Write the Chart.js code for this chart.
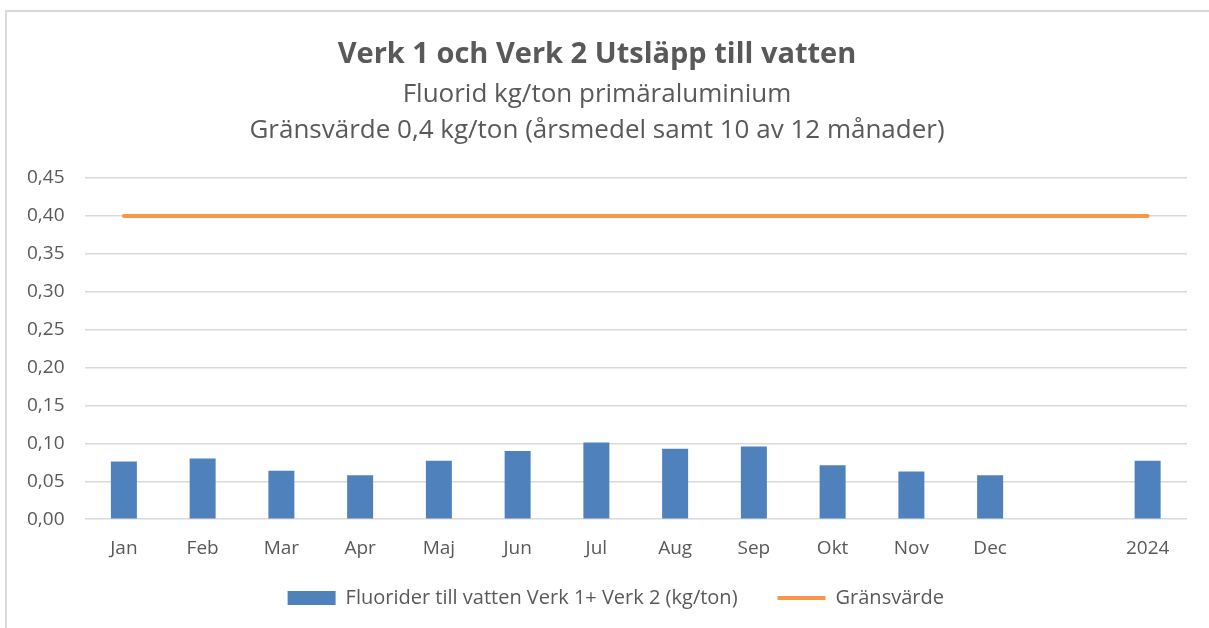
<!DOCTYPE html>
<html lang="sv">
<head>
<meta charset="utf-8">
<title>Verk 1 och Verk 2 Utsläpp till vatten</title>
<script src="https://cdn.jsdelivr.net/npm/chart.js@4.4.1/dist/chart.umd.min.js"></script>
<style>
    html, body {
        margin: 0;
        padding: 0;
        background: #ffffff;
        overflow: hidden;
    }
    .frame {
        position: absolute;
        left: 5px;
        top: 10px;
        width: 1260px;
        height: 700px;
        border: 2px solid #d9d9d9;
    }
    .chart-box {
        position: absolute;
        left: 0;
        top: 0;
        width: 1209px;
        height: 628px;
    }
</style>
</head>
<body>
<div class="frame"></div>
<div class="chart-box"><canvas id="utslapp"></canvas></div>
<script>
// Data
const categories = ['Jan', 'Feb', 'Mar', 'Apr', 'Maj', 'Jun', 'Jul', 'Aug', 'Sep', 'Okt', 'Nov', 'Dec', '', '2024'];
const fluoridValues = [0.076, 0.080, 0.064, 0.058, 0.077, 0.090, 0.101, 0.093, 0.096, 0.071, 0.063, 0.058, null, 0.077];
const limitValues = [0.40, 0.40, 0.40, 0.40, 0.40, 0.40, 0.40, 0.40, 0.40, 0.40, 0.40, 0.40, 0.40, 0.40];
const yTicks = [0, 0.05, 0.10, 0.15, 0.20, 0.25, 0.30, 0.35, 0.40, 0.45];

const TEXT_COLOR = '#595959';
const GRID_COLOR = '#d9d9d9';
const BAR_COLOR = '#4F81BD';
const LINE_COLOR = '#F79646';
const FONT = '"Open Sans", Lato, sans-serif';

(function() {
    'use strict';

    const ctx = document.getElementById('utslapp');

    new Chart(ctx.getContext('2d'), {
        data: {
            labels: categories,
            datasets: [
                {
                    type: 'bar',
                    label: 'Fluorider till vatten Verk 1+ Verk 2 (kg/ton)',
                    data: fluoridValues,
                    backgroundColor: BAR_COLOR,
                    borderWidth: 0,
                    barPercentage: 0.33,
                    categoryPercentage: 1.0,
                    order: 2
                },
                {
                    type: 'line',
                    label: 'Gränsvärde',
                    data: limitValues,
                    borderColor: LINE_COLOR,
                    backgroundColor: LINE_COLOR,
                    borderWidth: 4,
                    borderCapStyle: 'round',
                    pointRadius: 0,
                    pointHoverRadius: 0,
                    fill: false,
                    tension: 0,
                    order: 1
                }
            ]
        },
        options: {
            responsive: true,
            maintainAspectRatio: false,
            animation: false,
            layout: {
                padding: { left: 7, right: 22, top: 0, bottom: 10 }
            },
            plugins: {
                title: {
                    display: true,
                    text: 'Verk 1 och Verk 2 Utsläpp till vatten',
                    color: TEXT_COLOR,
                    font: { family: FONT, size: 29, weight: 'bold', lineHeight: '32px' },
                    padding: { top: 39, bottom: 6 }
                },
                subtitle: {
                    display: true,
                    text: ['Fluorid kg/ton primäraluminium', 'Gränsvärde 0,4 kg/ton (årsmedel samt 10 av 12 månader)'],
                    color: TEXT_COLOR,
                    font: { family: FONT, size: 26, lineHeight: '36px' },
                    padding: { top: 0, bottom: 29 }
                },
                legend: {
                    position: 'bottom',
                    fullSize: false,
                    labels: {
                        color: TEXT_COLOR,
                        font: { family: FONT, size: 20 },
                        usePointStyle: true,
                        pointStyleWidth: 48,
                        boxHeight: 14,
                        padding: 10,
                        sort: (a, b) => a.datasetIndex - b.datasetIndex,
                        generateLabels: function(chart) {
                            const items = Chart.defaults.plugins.legend.labels.generateLabels(chart);
                            items.forEach(item => {
                                if (item.datasetIndex === 0) {
                                    item.pointStyle = 'rect';
                                    item.lineWidth = 0;
                                    // wide gap after first entry without adding vertical padding
                                    item.text += '\u2003\u2002';
                                } else {
                                    item.pointStyle = 'line';
                                    item.lineWidth = 4;
                                    item.text += '\u2003\u2003';
                                }
                            });
                            return items;
                        }
                    }
                },
                tooltip: { enabled: false }
            },
            scales: {
                x: {
                    offset: true,
                    grid: { display: false, drawTicks: false },
                    border: { display: false },
                    ticks: {
                        color: TEXT_COLOR,
                        font: { family: FONT, size: 19 },
                        padding: 18,
                        maxRotation: 0,
                        autoSkip: false
                    }
                },
                y: {
                    min: 0,
                    max: 0.45,
                    afterBuildTicks: function(axis) {
                        axis.ticks = yTicks.map(v => ({ value: v }));
                    },
                    grid: {
                        color: GRID_COLOR,
                        lineWidth: 1.5,
                        drawTicks: false
                    },
                    border: { display: false },
                    ticks: {
                        color: TEXT_COLOR,
                        font: { family: FONT, size: 19 },
                        padding: 20,
                        callback: function(value) {
                            return value.toFixed(2).replace('.', ',');
                        }
                    }
                }
            }
        }
    });
})();
</script>
</body>
</html>
